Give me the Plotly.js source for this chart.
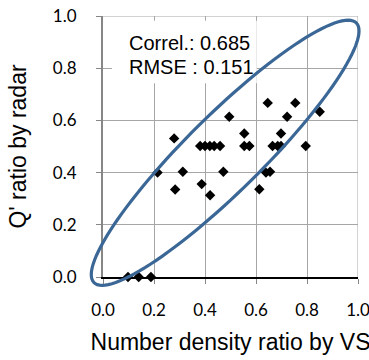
<!DOCTYPE html>
<html>
<head>
<meta charset="utf-8">
<script src="https://cdn.plot.ly/plotly-3.0.1.min.js"></script>
<style>html,body{margin:0;padding:0;background:#fff;}#chart{width:369px;height:360px;}</style>
</head>
<body>
<div id="chart"></div>
<script>
// Number density ratio by VS (x) vs Q' ratio by radar (y)
const densityRatio = [0.098, 0.140, 0.188, 0.214, 0.279, 0.283, 0.313,
  0.381, 0.400, 0.419, 0.436, 0.459, 0.387, 0.420, 0.472, 0.495,
  0.554, 0.554, 0.574, 0.613, 0.639, 0.655, 0.646, 0.665, 0.685, 0.698, 0.698,
  0.722, 0.754, 0.795, 0.850];
const qRatio = [0.000, 0.000, 0.000, 0.400, 0.531, 0.335, 0.403,
  0.502, 0.502, 0.502, 0.502, 0.502, 0.356, 0.313, 0.403, 0.614,
  0.550, 0.502, 0.502, 0.336, 0.400, 0.403, 0.667, 0.502, 0.502, 0.502, 0.550,
  0.614, 0.667, 0.502, 0.633];
const tickVals = [0, 0.2, 0.4, 0.6, 0.8, 1.0];
const tickLabels = ["0.0", "0.2", "0.4", "0.6", "0.8", "1.0"];
const statLabels = ["Correl.: 0.685", "RMSE : 0.151"];

// highlight ellipse (center, semi-axes, rotation) in axis units
const ellipseCenter = [0.479, 0.476];
const ellipseAxes = [0.7156, 0.147];
const ellipseAngleDeg = 43.97;

function ellipsePath() {
  const th = ellipseAngleDeg * Math.PI / 180;
  const n = 120;
  let d = "";
  for (let i = 0; i <= n; i++) {
    const t = 2 * Math.PI * i / n;
    const u = ellipseAxes[0] * Math.cos(t), v = ellipseAxes[1] * Math.sin(t);
    const x = ellipseCenter[0] + u * Math.cos(th) - v * Math.sin(th);
    const y = ellipseCenter[1] + u * Math.sin(th) + v * Math.cos(th);
    d += (i === 0 ? "M" : "L") + x.toFixed(4) + "," + y.toFixed(4);
  }
  return d + "Z";
}

const trace = {
  type: "scatter", mode: "markers",
  x: densityRatio, y: qRatio,
  marker: {symbol: "diamond", size: 8, color: "#000000", line: {width: 0}},
  cliponaxis: false, hoverinfo: "skip"
};

const gridColor = "#A6A6A6";
const tickFont = {family: "Lato, 'Liberation Sans', sans-serif", size: 17, color: "#000000"};
const titleFont = {family: "'Liberation Sans', Arial, sans-serif", size: 23, color: "#000000"};

const layout = {
  width: 369, height: 360,
  margin: {l: 103, r: 11, t: 16, b: 83, pad: 0},
  paper_bgcolor: "#ffffff", plot_bgcolor: "#ffffff",
  showlegend: false,
  xaxis: {
    range: [0, 1], tickvals: tickVals, ticktext: tickLabels,
    showgrid: true, gridcolor: gridColor, gridwidth: 1,
    zeroline: false, showline: true, linecolor: "#000000", linewidth: 2,
    ticks: "outside", ticklen: 5, tickcolor: "#868686", tickwidth: 1,
    ticklabelstandoff: 12, ticklabeloverflow: "allow", tickfont: tickFont,
    title: {text: "Number density ratio by VS", font: titleFont, standoff: 14},
    fixedrange: true
  },
  yaxis: {
    range: [0, 1], tickvals: tickVals, ticktext: tickLabels,
    showgrid: true, gridcolor: gridColor, gridwidth: 1,
    zeroline: false, showline: true, linecolor: "#868686", linewidth: 2,
    ticks: "outside", ticklen: 5, tickcolor: "#868686", tickwidth: 1,
    ticklabelstandoff: 16, ticklabeloverflow: "allow", tickfont: tickFont,
    title: {text: "Q' ratio by radar", font: titleFont, standoff: 20},
    fixedrange: true
  },
  shapes: [
    {type: "line", xref: "x", yref: "y", x0: 0, x1: 1, y0: 1, y1: 1, line: {color: gridColor, width: 1}, layer: "between"},
    {type: "line", xref: "x", yref: "y", x0: 1, x1: 1, y0: 0, y1: 1, line: {color: gridColor, width: 1}, layer: "between"},
    {type: "rect", xref: "x", yref: "y", x0: 0.035, x1: 0.603, y0: 0.742, y1: 0.982,
     fillcolor: "#ffffff", line: {width: 0}, layer: "between"},
    {type: "path", xref: "paper", yref: "paper", path: ellipsePath(),
     line: {color: "#3B6796", width: 3.2}, fillcolor: "rgba(0,0,0,0)", layer: "above"}
  ],
  annotations: [
    {xref: "paper", yref: "paper", x: 0.094, y: 0.898, xanchor: "left", yanchor: "middle",
     text: statLabels[0], showarrow: false, font: {family: "'Liberation Sans', Arial, sans-serif", size: 20, color: "#000000"}},
    {xref: "paper", yref: "paper", x: 0.094, y: 0.806, xanchor: "left", yanchor: "middle",
     text: statLabels[1], showarrow: false, font: {family: "'Liberation Sans', Arial, sans-serif", size: 20, color: "#000000"}}
  ]
};

Plotly.newPlot("chart", [trace], layout, {staticPlot: true, displayModeBar: false});
</script>
</body>
</html>
